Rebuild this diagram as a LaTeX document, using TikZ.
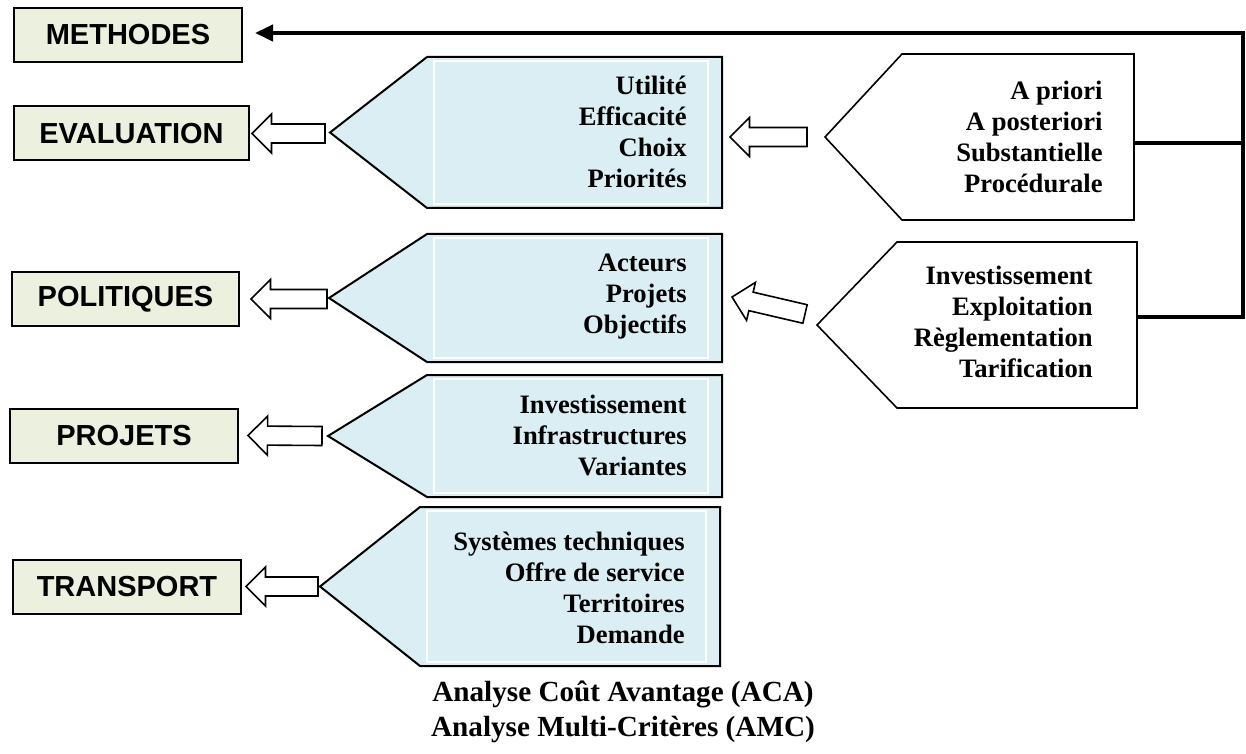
\documentclass[tikz,border=0pt]{standalone}
\usepackage{fontspec}
\setmainfont{Liberation Serif}
\setsansfont{Liberation Sans}
\usetikzlibrary{calc,arrows.meta}
\definecolor{boxgreen}{HTML}{EBF1DE}
\definecolor{pentblue}{HTML}{DAEEF3}
\newcommand\blockarrow[2]{%
  \coordinate (hb) at ($(#2)!9.75pt!(#1)$);
  \draw[blockarr] ($(#1)!4.75pt!90:(#2)$) -- ($(hb)!4.75pt!90:(#2)$) -- ($(hb)!9.75pt!90:(#2)$) -- (#2)
     -- ($(hb)!9.75pt!-90:(#2)$) -- ($(hb)!4.75pt!-90:(#2)$) -- ($(#1)!4.75pt!-90:(#2)$) -- cycle;}
\newcommand\leftpent[2]{% name, tip
  \fill[pentblue] (#1.north west) -- (#2) -- (#1.south west) -- cycle;
  \draw[pentline] (#1.north east) -- (#1.north west) -- (#2) -- (#1.south west) -- (#1.south east) -- cycle;
  \draw[white, line width=0.8pt] ($(#1.north west)+(7,4)$) rectangle ($(#1.south east)+(-14,-4)$);}
\newcommand\rightpent[2]{%
  \draw[rpentline] (#1.north east) -- (#1.north west) -- (#2) -- (#1.south west) -- (#1.south east) -- cycle;}
\begin{document}
\begin{tikzpicture}[x=0.5pt,y=-0.5pt,
  lbl/.style={draw=black, line width=1pt, fill=boxgreen, font=\sffamily\bfseries\fontsize{14.5}{17}\selectfont, minimum height=27pt, inner sep=0pt},
  pentrect/.style={fill=pentblue, draw=none, inner sep=0pt, outer sep=0pt},
  rpentrect/.style={fill=white, draw=none, inner sep=0pt, outer sep=0pt},
  pentline/.style={draw=black, line width=1pt, line join=miter},
  rpentline/.style={draw=black, line width=0.8pt, line join=miter},
  ptext/.style={font=\bfseries\fontsize{13.3}{15.5}\selectfont, align=right, inner sep=0pt, anchor=east},
  blockarr/.style={draw=black, fill=white, line width=0.8pt, line join=miter},
  bus/.style={line width=2pt, line join=miter},
]
\useasboundingbox (0,0) rectangle (1246,754);

% left labels
\node[lbl, minimum width=114pt] (meth) at (128,35) {METHODES};
\node[lbl, minimum width=117.5pt] (eval) at (131.5,133.5) {EVALUATION};
\node[lbl, minimum width=113.5pt] (pol) at (125.5,299) {POLITIQUES};
\node[lbl, minimum width=114pt] (proj) at (124,435.5) {PROJETS};
\node[lbl, minimum width=114pt] (trans) at (127,586.5) {TRANSPORT};

% left pentagons
\node[pentrect, minimum width=147.5pt, minimum height=75.5pt] (p1) at (574.5,132.5) {};
\coordinate (t1) at (330,132.5);
\leftpent{p1}{t1}
\node[ptext] (p1t) at ($(p1.east)+(-35,-1)$) {Utilité\\Efficacité\\Choix\\Priorités};

\node[pentrect, minimum width=147.5pt, minimum height=64pt] (p2) at (574.5,298) {};
\coordinate (t2) at (329,298);
\leftpent{p2}{t2}
\node[ptext] (p2t) at ($(p2.east)+(-35,-1)$) {Acteurs\\Projets\\Objectifs};

\node[pentrect, minimum width=147.5pt, minimum height=61pt] (p3) at (574.5,436) {};
\coordinate (t3) at (328,436);
\leftpent{p3}{t3}
\node[ptext] (p3t) at ($(p3.east)+(-35,-1)$) {Investissement\\Infrastructures\\Variantes};

\node[pentrect, minimum width=150pt, minimum height=79.5pt] (p4) at (570,586.5) {};
\coordinate (t4) at (320,586.5);
\leftpent{p4}{t4}
\node[ptext] (p4t) at ($(p4.east)+(-35,1)$) {Systèmes techniques\\Offre de service\\Territoires\\Demande};

% right pentagons
\node[rpentrect, minimum width=116pt, minimum height=83pt] (pA) at (1018,137) {};
\coordinate (tA) at (825,137);
\rightpent{pA}{tA}
\node[ptext] (pAt) at ($(pA.east)+(-31,0)$) {A priori\\A posteriori\\Substantielle\\Procédurale};

\node[rpentrect, minimum width=120pt, minimum height=83pt] (pB) at (1017,325) {};
\coordinate (tB) at (817,325);
\rightpent{pB}{tB}
\node[ptext] (pBt) at ($(pB.east)+(-44,-3)$) {Investissement\\Exploitation\\Règlementation\\Tarification};

% thick connectors
\coordinate (cornerTop) at (1243,33);
\coordinate (aOut) at ($(pA.east)+(0,6)$);
\coordinate (bOut) at ($(pB.east)+(0,-8)$);
\draw[bus] (aOut) -- (aOut -| cornerTop);
\draw[bus, -{Triangle[length=9pt,width=8pt]}] (bOut) -| (cornerTop) -- ($(meth.east)+(12,-2)$);

% block arrows
\coordinate (e1s) at ($(t1)+(-5,1)$);   \coordinate (e1e) at ($(eval.east)+(2,0)$);
\blockarrow{e1s}{e1e}
\coordinate (e2s) at ($(t2)+(-2,1)$);   \coordinate (e2e) at ($(pol.east)+(11,0)$);
\blockarrow{e2s}{e2e}
\coordinate (e3s) at ($(t3)+(-6,0)$);   \coordinate (e3e) at ($(proj.east)+(9,0)$);
\blockarrow{e3s}{e3e}
\coordinate (e4s) at ($(t4)+(-2,0)$);   \coordinate (e4e) at ($(trans.east)+(4,0)$);
\blockarrow{e4s}{e4e}
\coordinate (m1s) at ($(tA)+(-18,0)$);  \coordinate (m1e) at ($(p1.east)+(8,4.5)$);
\blockarrow{m1s}{m1e}
\coordinate (m2s) at ($(tB)+(-12,-11)$); \coordinate (m2e) at ($(p2.east)+(10,-1)$);
\blockarrow{m2s}{m2e}

% bottom text
\node[font=\bfseries\fontsize{14.6}{17.5}\selectfont, align=center] (aca) at (623,712) {Analyse Coût Avantage (ACA)\\Analyse Multi-Critères (AMC)};
\end{tikzpicture}
\end{document}
